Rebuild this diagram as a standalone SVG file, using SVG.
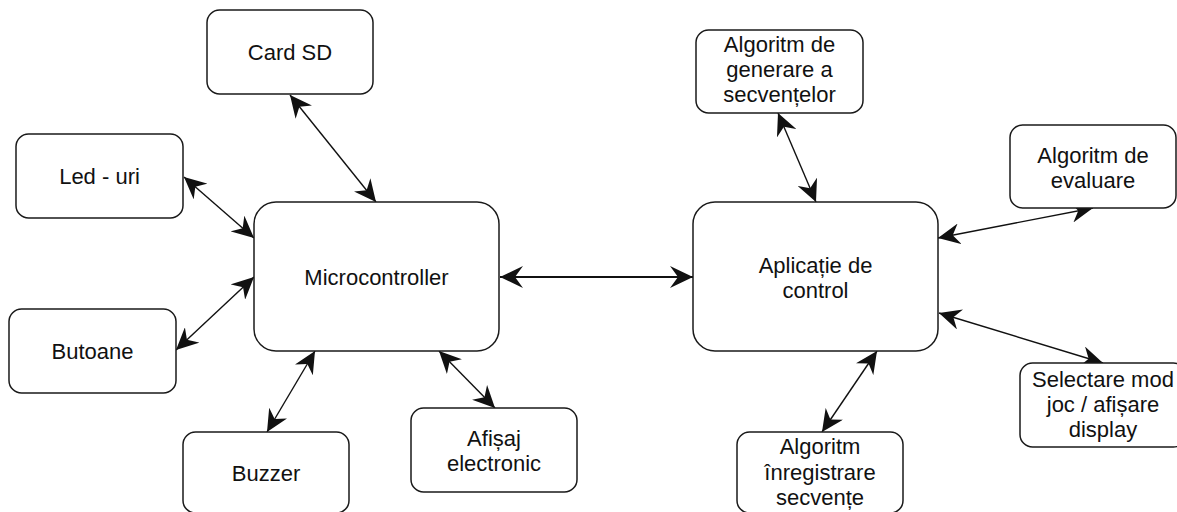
<svg xmlns="http://www.w3.org/2000/svg" width="1177" height="512" viewBox="0 0 1177 512">
<style>
.box{fill:#fff;stroke:#1a1a1a;stroke-width:1.5}
.lbl{font-family:"Liberation Sans",Arial,Helvetica,sans-serif;font-size:22px;fill:#111;text-anchor:middle}
.c{stroke:#111;stroke-width:1.4;fill:none;marker-start:url(#ah);marker-end:url(#ah)}
.c2{stroke:#111;stroke-width:2.2;fill:none;marker-start:url(#ahb);marker-end:url(#ahb)}
</style>
<defs>
<marker id="ah" markerUnits="userSpaceOnUse" viewBox="0 0 22 21" refX="22" refY="10.5" markerWidth="22" markerHeight="21" orient="auto-start-reverse">
<path d="M0,0 L22,10.5 L0,21 L7,10.5 Z" fill="#111"/>
</marker>
<marker id="ahb" markerUnits="userSpaceOnUse" viewBox="0 0 23 22" refX="23" refY="11" markerWidth="23" markerHeight="22" orient="auto-start-reverse">
<path d="M0,0 L23,11 L0,22 L8,11 Z" fill="#111"/>
</marker>
</defs>
<rect width="1177" height="512" fill="#fff"/>
<g id="connectors">
<line class="c" x1="290" y1="95" x2="376" y2="202"/>
<line class="c" x1="184" y1="177" x2="254" y2="238"/>
<line class="c" x1="176" y1="350" x2="254" y2="277"/>
<line class="c" x1="267" y1="432" x2="315" y2="351"/>
<line class="c" x1="439" y1="351" x2="495" y2="408"/>
<line class="c2" x1="500" y1="277" x2="693" y2="277"/>
<line class="c" x1="778" y1="113" x2="816" y2="202"/>
<line class="c" x1="938" y1="238" x2="1093" y2="208"/>
<line class="c" x1="939" y1="313" x2="1103" y2="363"/>
<line class="c" x1="877" y1="351" x2="822" y2="432"/>
</g>
<g id="card-sd"><rect class="box" x="207" y="10" width="166" height="84" rx="12.6"/><text class="lbl" x="290" y="60">Card SD</text></g>
<g id="led-uri"><rect class="box" x="16" y="134" width="167" height="84" rx="12.6"/><text class="lbl" x="99.5" y="184">Led - uri</text></g>
<g id="microcontroller"><rect class="box" x="254" y="202" width="245" height="149" rx="22"/><text class="lbl" x="376.5" y="285">Microcontroller</text></g>
<g id="butoane"><rect class="box" x="9" y="309" width="167" height="84" rx="12.6"/><text class="lbl" x="92.5" y="359">Butoane</text></g>
<g id="buzzer"><rect class="box" x="183" y="432" width="166" height="81" rx="12.6"/><text class="lbl" x="266" y="481">Buzzer</text></g>
<g id="afisaj"><rect class="box" x="411" y="408" width="166" height="84" rx="12.6"/><text class="lbl" x="494" y="446">Afișaj</text><text class="lbl" x="494" y="471">electronic</text></g>
<g id="aplicatie"><rect class="box" x="693" y="202" width="245" height="149" rx="22"/><text class="lbl" x="815.5" y="273">Aplicație de</text><text class="lbl" x="815.5" y="298">control</text></g>
<g id="alg-generare"><rect class="box" x="696" y="30" width="167" height="83" rx="12.6"/><text class="lbl" x="779.5" y="52">Algoritm de</text><text class="lbl" x="779.5" y="77">generare a</text><text class="lbl" x="779.5" y="102">secvențelor</text></g>
<g id="alg-evaluare"><rect class="box" x="1010" y="125" width="166" height="83" rx="12.6"/><text class="lbl" x="1093" y="163">Algoritm de</text><text class="lbl" x="1093" y="188">evaluare</text></g>
<g id="selectare"><rect class="box" x="1020" y="363" width="166" height="84" rx="12.6"/><text class="lbl" x="1103" y="387">Selectare mod</text><text class="lbl" x="1103" y="412">joc / afișare</text><text class="lbl" x="1103" y="437">display</text></g>
<g id="alg-inregistrare"><rect class="box" x="737" y="432" width="166" height="81" rx="12.6"/><text class="lbl" x="820" y="454">Algoritm</text><text class="lbl" x="820" y="480">înregistrare</text><text class="lbl" x="820" y="505">secvențe</text></g>
</svg>
